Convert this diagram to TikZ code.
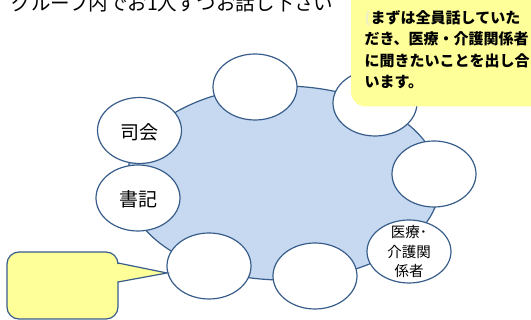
\documentclass[tikz,border=0pt]{standalone}
\usepackage{fontspec}
\setmainfont{Noto Sans CJK JP}
\usetikzlibrary{shapes.geometric}
\definecolor{edgeblue}{RGB}{56,93,138}
\definecolor{groupfill}{RGB}{198,217,240}
\definecolor{noteyellow}{RGB}{255,255,153}
\definecolor{parcol}{RGB}{240,240,200}
\tikzset{
  group/.style={ellipse, draw=edgeblue, line width=1.2pt, fill=groupfill, inner sep=0pt,
    minimum width=314pt, minimum height=194pt},
  seat/.style={ellipse, draw=edgeblue, line width=1.2pt, fill=white, inner sep=0pt,
    minimum width=84pt, minimum height=66pt},
  seattext/.style={font=\fontsize{19}{21}\selectfont, text=black},
  smalltext/.style={font=\fontsize{14.5}{19.5}\selectfont, align=center, text=black, inner sep=0pt},
  notebox/.style={fill=noteyellow, draw=edgeblue, line width=1.2pt},
  topnote/.style={fill=noteyellow},
}
\begin{document}
\begin{tikzpicture}[x=1pt,y=-1pt]
\useasboundingbox (0,0) rectangle (531,320);
\clip (0,0) rectangle (531,320);
% title (cut at top, as in the reference)
\node[anchor=base west, inner sep=0pt, font=\fontsize{19.5}{22}\selectfont] (title) at (-8,10.5) {．グループ内でお1人ずつお話し下さい};
% group table
\node[group] (g) at (283,183) {};
% seats
\node[seat] (s1) at (139.5,130.5) {};
\node[seattext] at ([yshift=-1.5pt]s1.center) {司会};
\node[seat] (s2) at (138,198) {};
\node[seattext] at ([yshift=-1.5pt]s2.center) {書記};
\node[seat] (s3) at (255,87) {};
\node[seat] (s4) at (375,103) {};
\node[seat] (s5) at (434,174) {};
\node[seat, minimum height=63pt] (s6) at (409,251.5) {};
\node[smalltext] at (s6) {医療･\\介護関\\係者};
\node[seat] (s7) at (315,276) {};
\node[seat] (s8) at (209,266) {};
% top-right note
\fill[topnote, rounded corners=15pt] (351,-25) rectangle (570,106.5);
\node[anchor=north west, inner sep=0pt, align=left, font=\bfseries\fontsize{15}{21.2}\selectfont] (note) at (364.5,10.5)
  {\textcolor{parcol}{(}まずは全員話していた\\だき、医療・介護関係者\\に聞きたいことを出し合\\います。};
% bottom-left note with pointer
\coordinate (tip) at (167,273);
\draw[notebox] (tip) -- (118,282) [rounded corners=12pt] -- (118,319) -- (7,319) -- (7,252) -- (118,252) [sharp corners] -- (118,263) -- cycle;
\end{tikzpicture}
\end{document}
